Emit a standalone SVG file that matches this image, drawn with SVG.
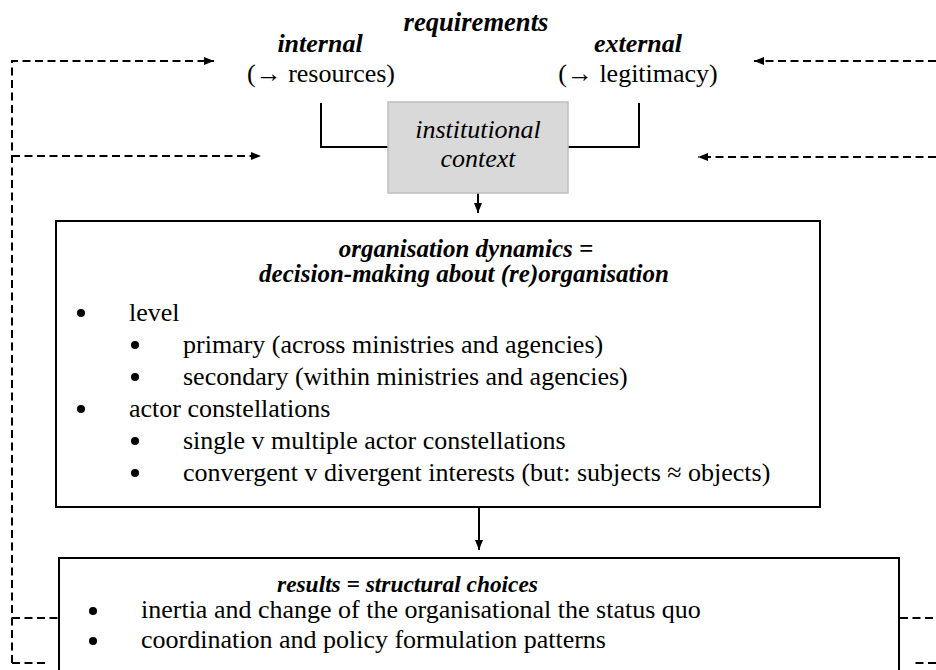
<svg xmlns="http://www.w3.org/2000/svg" width="936" height="670" viewBox="0 0 936 670">
<style>
text{font-family:"Liberation Serif","Times New Roman",serif;fill:#000}
.bi{font-weight:bold;font-style:italic}
.it{font-style:italic}
.t26{font-size:26px}
.t25{font-size:25px}
.box{fill:#fff;stroke:#000;stroke-width:2}
.ctx{fill:#d9d9d9;stroke:#bfbfbf;stroke-width:1.5}
.ln{fill:none;stroke:#000;stroke-width:2}
.dash{fill:none;stroke:#000;stroke-width:2;stroke-dasharray:8 4.5}
.bul{fill:#000}
</style>
<defs>
<marker id="ah" viewBox="0 0 10 8" refX="10" refY="4" markerWidth="10" markerHeight="8" markerUnits="userSpaceOnUse" orient="auto">
<path d="M0,0 L10,4 L0,8 z" fill="#000"/>
</marker>
</defs>
<rect width="936" height="670" fill="#fff"/>

<g id="connectors">
<path class="dash" d="M12,663 V61 H214" marker-end="url(#ah)"/>
<path class="dash" d="M12,156 H261" marker-end="url(#ah)"/>
<path class="dash" d="M12,618 H58"/>
<path class="dash" d="M12,663 H48"/>
<path class="dash" d="M936,61 H754" marker-end="url(#ah)"/>
<path class="dash" d="M936,157 H698" marker-end="url(#ah)"/>
<path class="dash" d="M900,618 H936"/>
<path class="dash" d="M936,663 H912"/>
<path class="ln" d="M321,103 V147 H388"/>
<path class="ln" d="M639,103 V147 H568"/>
<path class="ln" d="M478,193 V213" marker-end="url(#ah)"/>
<path class="ln" d="M479,507 V550" marker-end="url(#ah)"/>
</g>

<g id="requirements">
<text class="bi" style="font-size:26.6px" x="476" y="31" text-anchor="middle">requirements</text>
</g>
<g id="internal">
<text class="bi t26" x="320" y="52" text-anchor="middle">internal</text>
<text class="t26" x="321" y="82" text-anchor="middle">(→ resources)</text>
</g>
<g id="external">
<text class="bi t26" x="638" y="52" text-anchor="middle">external</text>
<text class="t26" x="638" y="82" text-anchor="middle">(→ legitimacy)</text>
</g>
<g id="context">
<rect class="ctx" x="388" y="102" width="180" height="91"/>
<text class="it t26" x="478" y="138" text-anchor="middle">institutional</text>
<text class="it t26" x="478" y="167" text-anchor="middle">context</text>
</g>
<g id="dynamics">
<rect class="box" x="56" y="221" width="764" height="286"/>
<text class="bi t25" x="466" y="257" text-anchor="middle">organisation dynamics =</text>
<text class="bi t25" x="464" y="282" text-anchor="middle">decision-making about (re)organisation</text>
<circle class="bul" cx="81" cy="313" r="4"/>
<text class="t26" x="129" y="321">level</text>
<circle class="bul" cx="135" cy="345" r="4"/>
<text class="t26" x="183" y="353">primary (across ministries and agencies)</text>
<circle class="bul" cx="135" cy="377" r="4"/>
<text class="t26" x="183" y="385">secondary (within ministries and agencies)</text>
<circle class="bul" cx="81" cy="409" r="4"/>
<text class="t26" x="129" y="417">actor constellations</text>
<circle class="bul" cx="135" cy="441" r="4"/>
<text class="t26" x="183" y="449">single v multiple actor constellations</text>
<circle class="bul" cx="135" cy="473" r="4"/>
<text class="t26" x="183" y="481">convergent v divergent interests (but: subjects ≈ objects)</text>
</g>
<g id="results">
<rect class="box" x="59" y="558" width="840" height="140"/>
<text class="bi" style="font-size:23.4px" x="407.5" y="592" text-anchor="middle">results = structural choices</text>
<circle class="bul" cx="93" cy="611" r="4"/>
<text class="t26" x="141" y="618">inertia and change of the organisational the status quo</text>
<circle class="bul" cx="93" cy="641" r="4"/>
<text class="t26" x="141" y="648">coordination and policy formulation patterns</text>
</g>
</svg>
